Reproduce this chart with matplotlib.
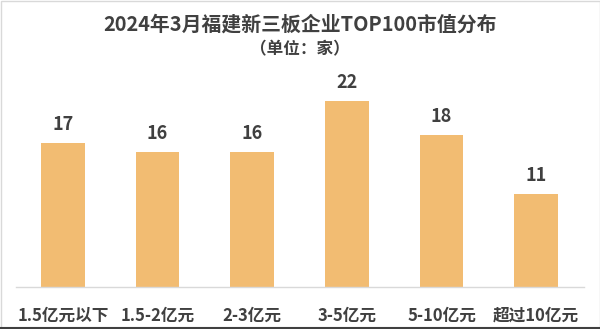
import matplotlib
matplotlib.use("Agg")
import matplotlib.pyplot as plt
from matplotlib.patches import Rectangle

plt.rcParams['font.family'] = ['Noto Sans CJK SC', 'DejaVu Sans']

categories = ["1.5亿元以下", "1.5-2亿元", "2-3亿元", "3-5亿元", "5-10亿元", "超过10亿元"]
values = [17, 16, 16, 22, 18, 11]
title = "2024年3月福建新三板企业TOP100市值分布"
subtitle = "（单位：家）"

W, H = 600, 329
fig = plt.figure(figsize=(W/100, H/100), dpi=100)
fig.patch.set_facecolor("white")

ax = fig.add_axes([15.5/W, (H-287)/H, (583.5-15.5)/W, (287-60)/H])
ax.set_facecolor("none")
x = list(range(len(categories)))
ax.bar(x, values, width=0.46, color="#F2BC72", zorder=2)
ax.set_xlim(-0.5, len(categories)-0.5)
ppu = (287-101)/22
ax.set_ylim(0, (287-60)/ppu)
for xi, v in zip(x, values):
    ax.annotate(str(v), (xi, v), xytext=(0, 6.5), textcoords="offset points",
                ha="center", va="bottom", fontsize=13,
                fontweight="bold", color="#404040")
ax.set_xticks(x)
ax.set_xticklabels(categories, fontsize=12, fontweight="bold", color="#404040")
ax.tick_params(axis="x", length=0, pad=14)
ax.set_yticks([])
for s in ["top", "right", "left"]:
    ax.spines[s].set_visible(False)
ax.spines["bottom"].set_color("#d9d9d9")
ax.spines["bottom"].set_linewidth(1)

fig.text(0.5, 1 - 24/H, title, ha="center", va="center", fontsize=14.3,
         fontweight="bold", color="#404040")
fig.text(0.5, 1 - 49/H, subtitle, ha="center", va="center", fontsize=12,
         fontweight="bold", color="#404040")

fig.add_artist(Rectangle((0.5/W, 0.5/H), 1 - 1/W, 1 - 1/H, transform=fig.transFigure,
                         fill=False, edgecolor="#d9d9d9", linewidth=1))
fig.add_artist(plt.Line2D([0, 1], [0.8/H, 0.8/H], transform=fig.transFigure,
                          color="#404040", linewidth=1.5))

fig.savefig("out.png", dpi=100)
